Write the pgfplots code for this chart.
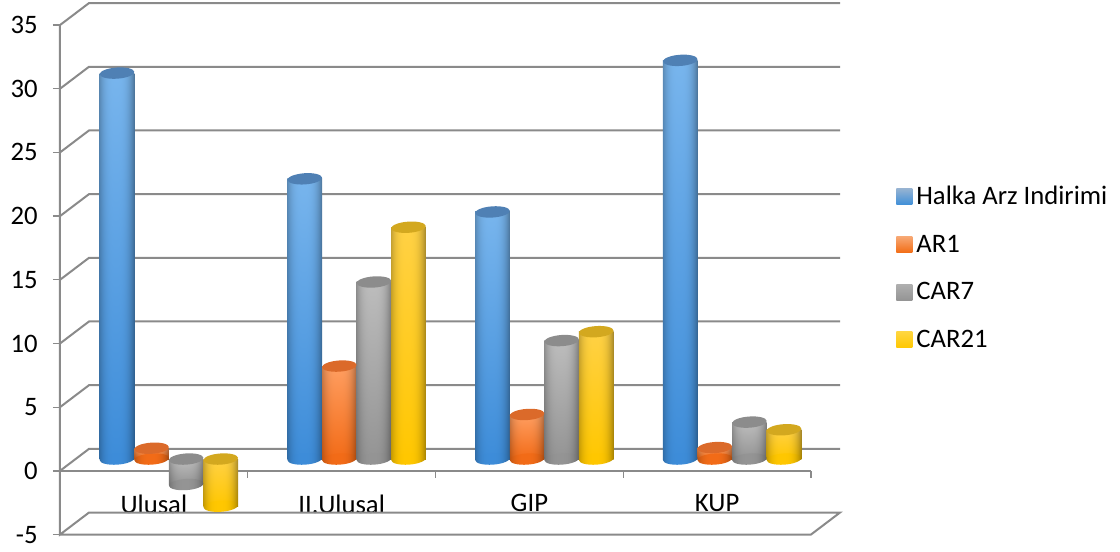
\documentclass[border=0pt]{standalone}
\usepackage{fontspec}
\setmainfont{Carlito}
\usepackage{pgfplots}
\usepackage{pgfplotstable}
\pgfplotsset{compat=1.18}

% 1px of the reference = 0.75pt here
\definecolor{wall}{HTML}{8A8A8A}

% cylinder body: bright in the middle, dark at the edges, lighter towards the top
% (a path only sees the middle 50bp of a shading)
\newcommand\cylshade[7]{\pgfdeclarefunctionalshading{#1}{\pgfpoint{-50bp}{-50bp}}{\pgfpoint{50bp}{50bp}}{}{
 25 add 50 div exch 2 add abs 27 div dup dup mul mul 0.36 mul 1 exch sub
 1 index #3 mul #2 add 1 index mul
 2 index #5 mul #4 add 2 index mul
 3 index #7 mul #6 add 3 index mul
 5 3 roll pop pop}}
\cylshade{cylblue}{0.24}{0.23}{0.55}{0.16}{0.85}{0.08}
\cylshade{cylorange}{0.95}{0.05}{0.42}{0.20}{0.09}{0.29}
\cylshade{cylgray}{0.58}{0.16}{0.58}{0.16}{0.58}{0.16}
\cylshade{cylyellow}{1.0}{0.0}{0.78}{0.04}{0.0}{0.27}
% same profile without the vertical change, for the round bottom
\cylshade{botblue}{0.24}{0}{0.55}{0}{0.85}{0}
\cylshade{botorange}{0.95}{0}{0.42}{0}{0.09}{0}
\cylshade{botgray}{0.58}{0}{0.58}{0}{0.58}{0}
\cylshade{botyellow}{1.0}{0}{0.78}{0}{0.0}{0}

\definecolor{bluemid}{HTML}{3F8FD8}\definecolor{bluecap}{HTML}{4F80B4}
\definecolor{orangemid}{HTML}{F26C14}\definecolor{orangecap}{HTML}{DB6A2A}
\definecolor{graymid}{HTML}{949494}\definecolor{graycap}{HTML}{8C8C8C}
\definecolor{yellowmid}{HTML}{FFC800}\definecolor{yellowcap}{HTML}{D3A81F}

% caps of each cylinder
\newcommand\cylmarks[2]{%
 \pgfdeclareplotmark{bot#1}{\pgftransformrotate{4}\pgfpathellipse{\pgfpointorigin}{\pgfqpoint{12.97pt}{0pt}}{\pgfqpoint{0pt}{4.2pt}}\pgfshadepath{bot#1}{0}\pgfusepath{discard}}%
 \pgfdeclareplotmark{top#1}{\pgftransformrotate{4}\pgfpathellipse{\pgfpointorigin}{\pgfqpoint{12.97pt}{0pt}}{\pgfqpoint{0pt}{4.2pt}}\pgfsetfillcolor{#2}\pgfusepathqfill}%
}
\cylmarks{blue}{bluecap}
\cylmarks{orange}{orangecap}
\cylmarks{gray}{graycap}
\cylmarks{yellow}{yellowcap}

\pgfplotstableread{
cat val top bot
0 30.3 30.3 0
1 22.0 22.0 0
2 19.4 19.4 0
3 31.3 31.3 0
}\halka
\pgfplotstableread{
cat val top bot
0 0.85 0.85 0
1 7.3 7.3 0
2 3.5 3.5 0
3 0.9 0.9 0
}\arone
\pgfplotstableread{
cat val top bot
0 -2.0 0 -2.0
1 13.9 13.9 0
2 9.3 9.3 0
3 2.9 2.9 0
}\carseven
\pgfplotstableread{
cat val top bot
0 -3.7 0 -3.7
1 18.2 18.2 0
2 10.0 10.0 0
3 2.3 2.3 0
}\cartwone

% one plot per bar, so that each bar gets the whole shading
\newcommand\cyl[3]{%
 \addplot[forget plot,only marks,mark=bot#2,xshift=#3] table[x=cat,y=bot] {#1};
 \pgfplotsinvokeforeach{0,1,2,3}{%
  \addplot[forget plot,ybar,bar width=25.95pt,bar shift=0pt,draw=none,shading=cyl#2,xshift=#3,
    restrict x to domain=##1:##1] table[x=cat,y=val] {#1};
 }
 \addplot[forget plot,only marks,mark=top#2,xshift=#3] table[x=cat,y=top] {#1};
}
\newcommand\legicon[2]{\addlegendimage{legend image code/.code={\path[draw=none,top color=#1,bottom color=#2] (-1.5pt,-6pt) rectangle (10.5pt,6pt);}}}

\begin{document}
\begin{tikzpicture}
\useasboundingbox (-45pt,-12.4pt) rectangle (795pt,400.9pt);

% front frame, back wall and floor
\begin{axis}[
    at={(0,0)}, anchor=south west,
    scale only axis, width=563.25pt, height=382.1pt,
    clip=false,
    xmin=-0.5, xmax=3.5, ymin=-5, ymax=35,
    axis x line=middle, axis y line=left,
    axis line style={-,draw=wall,line width=1.5pt},
    hide obscured x ticks=false, hide obscured y ticks=false,
    xtick={0,1,2,3}, xticklabels={Ulusal,II.Ulusal,GIP,KUP},
    minor xtick={-0.5,0.5,1.5,2.5,3.5},
    ytick={-5,0,5,10,15,20,25,30,35},
    tick align=outside,
    major x tick style={draw=none},
    minor x tick style={draw=wall,line width=1pt},
    minor tick length=5.25pt,
    major y tick style={draw=wall,line width=1pt},
    major tick length=5.25pt,
    tick label style={font=\fontsize{20pt}{24pt}\selectfont,text=black},
    /pgf/number format/assume math mode=true,
    xticklabel style={yshift=-9pt},
    yticklabel style={xshift=-8pt},
]
\addplot[wall,line width=1.5pt,line join=miter] coordinates {
 (-0.5,-5) (3.5,-5) (3.6545,-3.273) (-0.3455,-3.273) (-0.5,-5)
 (-0.5,0) (-0.3455,1.727) (3.6545,1.727) (-0.3455,1.727)
 (-0.5,0) (-0.5,5) (-0.3455,6.727) (3.6545,6.727) (-0.3455,6.727)
 (-0.5,5) (-0.5,10) (-0.3455,11.727) (3.6545,11.727) (-0.3455,11.727)
 (-0.5,10) (-0.5,15) (-0.3455,16.727) (3.6545,16.727) (-0.3455,16.727)
 (-0.5,15) (-0.5,20) (-0.3455,21.727) (3.6545,21.727) (-0.3455,21.727)
 (-0.5,20) (-0.5,25) (-0.3455,26.727) (3.6545,26.727) (-0.3455,26.727)
 (-0.5,25) (-0.5,30) (-0.3455,31.727) (3.6545,31.727) (-0.3455,31.727)
 (-0.5,30) (-0.5,35) (-0.3455,36.727) (3.6545,36.727)
};
\end{axis}

% cylinders, in the mid-depth plane: their zero lies above and to the right of the front zero
\begin{axis}[
    at={(0,0)}, anchor=south west,
    scale only axis, width=563.25pt, height=382.1pt,
    clip=false,
    xmin=-0.58, xmax=3.42, ymin=-5.926, ymax=34.07,
    hide axis,
    legend style={at={(1.108,0.689)},anchor=north west,draw=none,fill=none,
      font=\fontsize{20pt}{24pt}\selectfont,row sep=21.2pt,
      nodes={inner ysep=0pt,inner xsep=3pt}},
    legend cell align=left,
]
\cyl{\halka}{blue}{-38.9pt}
\cyl{\arone}{orange}{-12.97pt}
\cyl{\carseven}{gray}{12.97pt}
\cyl{\cartwone}{yellow}{38.9pt}
\legicon{bluecap!60!white}{bluemid}
\legicon{orangemid!60!white}{orangemid}
\legicon{graymid!75!white}{graymid}
\legicon{yellowmid!75!white}{yellowmid}
\legend{Halka Arz Indirimi,AR1,CAR7,CAR21}
\end{axis}
\end{tikzpicture}
\end{document}
